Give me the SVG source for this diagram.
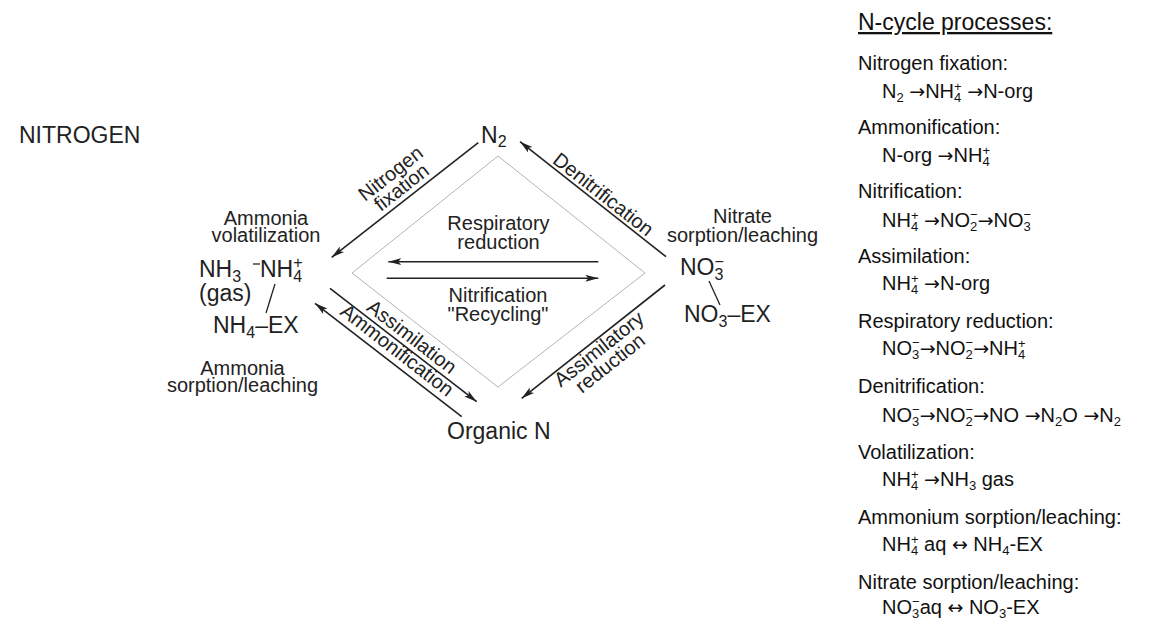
<svg xmlns="http://www.w3.org/2000/svg" width="1159" height="619" viewBox="0 0 1159 619">
<style>
text{font-family:"Liberation Sans","DejaVu Sans",Arial,sans-serif;fill:#222}
.m{font-size:23px}
.l{font-size:20px}
.r{font-size:20px;fill:#111}
.t{font-size:23px;fill:#111;text-decoration:underline}
.ms{font-size:16px}
.s{font-size:13px}
.a{font-family:"DejaVu Sans",sans-serif;font-size:19px}
.c{stroke:#222;stroke-width:1.6;fill:none}
.b{stroke:#222;stroke-width:1.3;fill:none}
</style>
<defs>
<marker id="ah" markerUnits="userSpaceOnUse" markerWidth="14" markerHeight="10" refX="13" refY="5" orient="auto">
<path d="M0,1.5 L13,5 L0,8.5 L3,5 z" fill="#222"/>
</marker>
</defs>
<rect width="1159" height="619" fill="#fff"/>
<g id="title"><text x="19" y="143" class="m">NITROGEN</text></g>
<polygon id="frame" points="498,156 645,273 498,387 352,273" fill="none" stroke="#b4b4b4" stroke-width="1"/>
<g id="connectors">
<line class="c" x1="478.3" y1="142.7" x2="331.7" y2="257.3" marker-end="url(#ah)"/>
<line class="c" x1="666" y1="256.7" x2="520" y2="141.7" marker-end="url(#ah)"/>
<line class="c" x1="665" y1="285" x2="521.7" y2="398.3" marker-end="url(#ah)"/>
<line class="c" x1="330" y1="288.3" x2="476.7" y2="401.7" marker-end="url(#ah)"/>
<line class="c" x1="461.7" y1="416.7" x2="315" y2="303.3" marker-end="url(#ah)"/>
<line class="c" x1="598.3" y1="261.7" x2="388.3" y2="261.7" marker-end="url(#ah)"/>
<line class="c" x1="386.7" y1="278.3" x2="598.3" y2="278.3" marker-end="url(#ah)"/>
<line class="b" x1="275" y1="284" x2="266" y2="313"/>
<line class="b" x1="709" y1="281" x2="720" y2="305"/>
<line class="b" x1="253" y1="264" x2="260" y2="264"/>
</g>
<g id="n2"><text x="481" y="143" class="m">N<tspan class="ms" dy="4">2</tspan></text></g>
<g id="ammonium">
<text x="199" y="277" class="m">NH<tspan class="ms" dy="5">3</tspan></text>
<text x="260" y="277" class="m">NH<tspan class="ms" dy="5">4</tspan><tspan class="ms" dx="-8.9" dy="-14">+</tspan></text>
<text x="199" y="300.5" class="m">(gas)</text>
<text x="213" y="333" class="m">NH<tspan class="ms" dy="5">4</tspan><tspan dy="-5">–EX</tspan></text>
</g>
<g id="nitrate">
<text x="680" y="275" class="m">NO<tspan class="ms" dy="5">3</tspan><tspan class="ms" dx="-8.9" dy="-13">−</tspan></text>
<text x="684" y="322" class="m">NO<tspan class="ms" dy="5">3</tspan><tspan dy="-5">–EX</tspan></text>
</g>
<g id="organic"><text x="447" y="439" class="m">Organic N</text></g>
<g id="labels">
<text class="l" text-anchor="middle"><tspan x="266" y="225">Ammonia</tspan><tspan x="266" y="242">volatilization</tspan></text>
<text class="l" text-anchor="middle"><tspan x="242.5" y="375">Ammonia</tspan><tspan x="242.5" y="392">sorption/leaching</tspan></text>
<text class="l" text-anchor="middle"><tspan x="742.5" y="223">Nitrate</tspan><tspan x="742.5" y="241.5">sorption/leaching</tspan></text>
<text class="l" text-anchor="middle"><tspan x="498.5" y="229.5">Respiratory</tspan><tspan x="498.5" y="249">reduction</tspan></text>
<text class="l" text-anchor="middle"><tspan x="498" y="302">Nitrification</tspan><tspan x="498" y="321">"Recycling"</tspan></text>
<g transform="translate(409,196.9) rotate(-38)"><text class="l" text-anchor="middle"><tspan x="0" y="-23">Nitrogen</tspan><tspan x="0" y="-5.5">fixation</tspan></text></g>
<g transform="translate(597,202.4) rotate(38.2)"><text class="l" text-anchor="middle" x="0" y="-3.5">Denitrification</text></g>
<g transform="translate(404.7,346.1) rotate(37.7)"><text class="l" text-anchor="middle" x="0" y="-5">Assimilation</text></g>
<g transform="translate(389,360.6) rotate(37.7)"><text class="l" text-anchor="middle" x="0" y="-6.5">Ammonification</text></g>
<g transform="translate(593.2,341.7) rotate(-38.3)"><text class="l" text-anchor="middle"><tspan x="0" y="16">Assimilatory</tspan><tspan x="0" y="34">reduction</tspan></text></g>
</g>
<g id="legend">
<text x="858" y="30" class="t">N-cycle processes:</text>
<text x="858" y="70" class="r">Nitrogen fixation:</text>
<text x="882" y="98" class="r">N<tspan class="s" dy="4">2</tspan><tspan dy="-4"> </tspan><tspan class="a">→</tspan>NH<tspan class="s" dy="4">4</tspan><tspan class="s" dx="-7.2" dy="-11">+</tspan><tspan dy="7"> </tspan><tspan class="a">→</tspan>N-org</text>
<text x="858" y="133.5" class="r">Ammonification:</text>
<text x="882" y="162" class="r">N-org <tspan class="a">→</tspan>NH<tspan class="s" dy="4">4</tspan><tspan class="s" dx="-7.2" dy="-11">+</tspan></text>
<text x="858" y="197.5" class="r">Nitrification:</text>
<text x="882" y="226.7" class="r">NH<tspan class="s" dy="4">4</tspan><tspan class="s" dx="-7.2" dy="-11">+</tspan><tspan dy="7"> </tspan><tspan class="a">→</tspan>NO<tspan class="s" dy="4">2</tspan><tspan class="s" dx="-7.2" dy="-12">−</tspan><tspan class="a" dy="8">→</tspan>NO<tspan class="s" dy="4">3</tspan><tspan class="s" dx="-7.2" dy="-12">−</tspan></text>
<text x="858" y="262.7" class="r">Assimilation:</text>
<text x="882" y="290" class="r">NH<tspan class="s" dy="4">4</tspan><tspan class="s" dx="-7.2" dy="-11">+</tspan><tspan dy="7"> </tspan><tspan class="a">→</tspan>N-org</text>
<text x="858" y="328.3" class="r">Respiratory reduction:</text>
<text x="882" y="355" class="r">NO<tspan class="s" dy="4">3</tspan><tspan class="s" dx="-7.2" dy="-12">−</tspan><tspan class="a" dy="8">→</tspan>NO<tspan class="s" dy="4">2</tspan><tspan class="s" dx="-7.2" dy="-12">−</tspan><tspan class="a" dy="8">→</tspan>NH<tspan class="s" dy="4">4</tspan><tspan class="s" dx="-7.2" dy="-11">+</tspan></text>
<text x="858" y="393.3" class="r">Denitrification:</text>
<text x="882" y="422" class="r">NO<tspan class="s" dy="4">3</tspan><tspan class="s" dx="-7.2" dy="-12">−</tspan><tspan class="a" dy="8">→</tspan>NO<tspan class="s" dy="4">2</tspan><tspan class="s" dx="-7.2" dy="-12">−</tspan><tspan class="a" dy="8">→</tspan>NO <tspan class="a">→</tspan>N<tspan class="s" dy="4">2</tspan><tspan dy="-4">O </tspan><tspan class="a">→</tspan>N<tspan class="s" dy="4">2</tspan></text>
<text x="858" y="458.5" class="r">Volatilization:</text>
<text x="882" y="486" class="r">NH<tspan class="s" dy="4">4</tspan><tspan class="s" dx="-7.2" dy="-11">+</tspan><tspan dy="7"> </tspan><tspan class="a">→</tspan>NH<tspan class="s" dy="4">3</tspan><tspan dy="-4"> gas</tspan></text>
<text x="858" y="523.5" class="r">Ammonium sorption/leaching:</text>
<text x="882" y="551" class="r">NH<tspan class="s" dy="4">4</tspan><tspan class="s" dx="-7.2" dy="-11">+</tspan><tspan dy="7"> aq </tspan><tspan class="a">↔</tspan> NH<tspan class="s" dy="4">4</tspan><tspan dy="-4">-EX</tspan></text>
<text x="858" y="588.5" class="r">Nitrate sorption/leaching:</text>
<text x="882" y="614" class="r">NO<tspan class="s" dy="4">3</tspan><tspan class="s" dx="-7.2" dy="-12">−</tspan><tspan dy="8">aq </tspan><tspan class="a">↔</tspan> NO<tspan class="s" dy="4">3</tspan><tspan dy="-4">-EX</tspan></text>
</g>
</svg>
